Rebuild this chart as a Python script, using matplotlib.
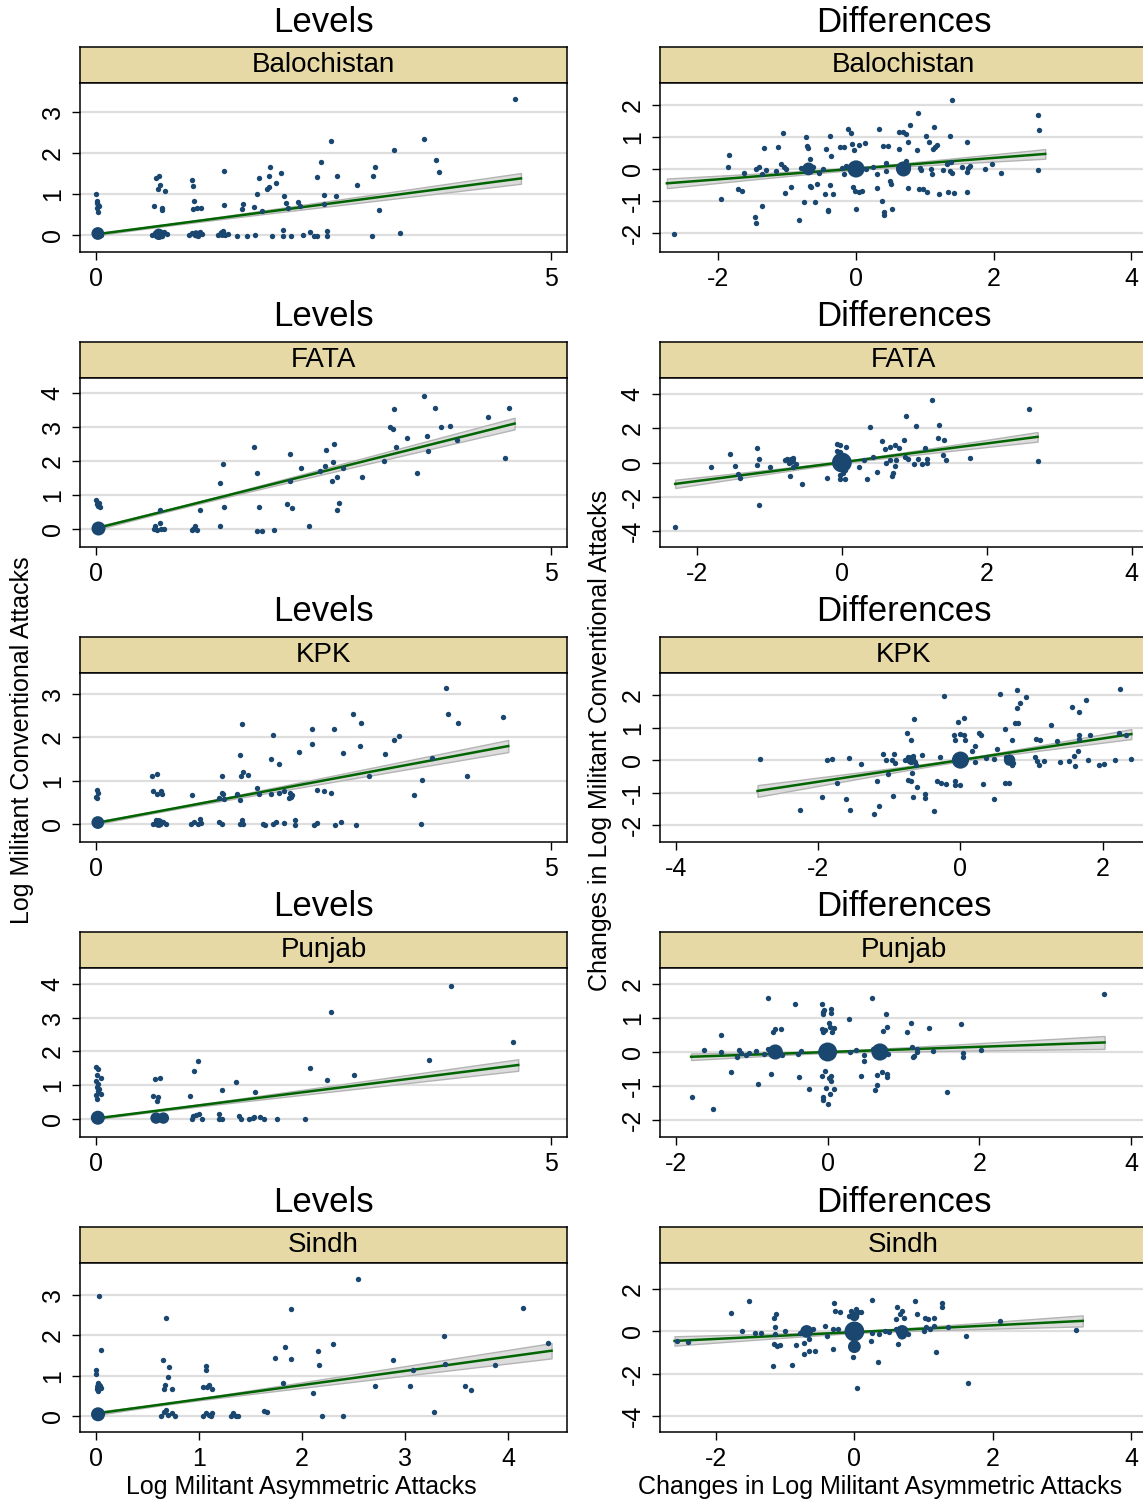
"""Levels vs. differences scatter panels by province, with linear fit and CI."""

import matplotlib
matplotlib.use("Agg")
import matplotlib.pyplot as plt
import numpy as np

plt.rcParams["font.family"] = ["Liberation Sans", "DejaVu Sans"]
plt.rcParams["axes.unicode_minus"] = False

W, H = 1143, 1505
NAVY = "#1a476f"
GREEN = "#006400"
STRIP = "#e6d9a6"
GRID = "#dedede"
BAND = "#dcdcdc"
BAND_EDGE = "#b4b4b4"

REGIONS = ["Balochistan", "FATA", "KPK", "Punjab", "Sindh"]

# ---- Balochistan ----
bal_lev_pts = [
    (4.61, 3.30), (2.58, 2.30), (3.60, 2.35), (3.28, 2.08), (3.74, 1.83), (3.77, 1.53), (2.47, 1.77),
    (3.07, 1.66), (3.04, 1.43), (2.65, 1.43), (2.43, 1.42), (2.87, 1.23), (2.51, 0.97), (2.64, 0.95),
    (2.50, 0.75), (3.11, 0.61), (3.03, -0.02), (3.34, 0.05), (1.91, 1.66), (1.90, 1.43), (2.03, 1.52),
    (1.79, 1.39), (1.98, 1.28), (1.90, 1.17), (1.88, 1.11), (1.77, 1.00), (2.07, 0.95), (2.09, 0.79),
    (2.11, 0.66), (2.22, 0.80), (2.24, 0.71), (1.82, 0.58), (1.74, 0.68), (1.62, 0.75), (1.60, 0.64),
    (1.41, 1.57), (1.41, 0.73), (1.06, 1.34), (1.07, 1.19), (1.08, 0.82), (1.07, 0.63), (1.11, 0.67),
    (1.15, 0.66), (0.66, 1.38), (0.69, 1.43), (0.70, 1.21), (0.68, 1.11), (0.76, 1.07), (0.64, 0.72),
    (0.72, 0.66), (0.73, 0.60), (0.00, 1.00), (0.01, 0.82), (0.025, 0.74), (0.01, 0.66), (0.02, 0.57),
    (0.03, 0.70), (0.015, 0.78), (1.55, -0.01), (1.66, -0.02), (1.75, 0.01), (1.93, -0.01), (2.06, 0.12),
    (2.06, -0.01), (2.14, -0.02), (2.28, 0.00), (2.35, 0.07), (2.40, -0.02), (2.43, -0.01), (2.54, 0.10),
    (2.54, -0.01), (1.02, 0.01), (1.05, 0.06), (1.12, -0.01), (1.16, 0.03), (1.14, 0.08), (0.62, 0.00),
    (0.65, 0.06), (0.72, -0.02), (0.78, 0.03), (0.75, 0.07), (1.34, 0.00), (1.37, 0.06), (1.42, 0.01),
    (1.45, 0.03), (1.40, 0.09), (0.05, 0.00), (0.00, 0.08),
]
bal_lev_clu = [(0.02, 0.04, 5), (0.69, 0.02, 4), (1.10, 0.02, 2), (1.39, 0.03, 2)]
bal_lev_fit = (0.0, 4.67, 0.02, 1.38)
bal_lev_ci = (0.02, 0.13, 0.6)

bal_dif_pts = [
    (-2.64, -2.03), (-1.97, -0.95), (-1.86, 0.06), (-1.84, 0.43), (-1.71, -0.64), (-1.66, -0.70),
    (-1.63, -0.13), (-1.47, -1.50), (-1.46, -1.68), (-1.45, -0.01), (-1.41, 0.07), (-1.37, -1.16),
    (-1.34, 0.64), (-1.31, -0.03), (-1.37, -0.16), (-1.16, -0.06), (-1.13, 0.68), (-1.09, 0.17),
    (-1.06, 1.13), (-1.05, 0.06), (-1.04, -0.74), (-1.02, -0.01), (-0.94, -0.55), (-0.83, -1.59),
    (-0.75, -1.02), (-0.73, 1.00), (-0.71, 0.72), (-0.70, 0.65), (-0.67, 0.30), (-0.67, -0.53),
    (-0.65, -0.58), (-0.59, -1.04), (-0.57, -0.46), (-0.54, -0.13), (-0.48, 0.01), (-0.44, 0.62),
    (-0.45, -0.78), (-0.41, -1.31), (-0.41, -1.28), (-0.38, 1.03), (-0.38, -0.49), (-0.36, 0.42),
    (-0.33, -0.80), (-0.24, 0.69), (-0.18, 0.69), (-0.18, -0.15), (-0.12, 1.25), (-0.08, 1.11),
    (-0.06, 0.79), (-0.03, 0.60), (-0.04, -0.55), (-0.02, -0.69), (0.00, -1.25), (0.04, 0.75),
    (0.05, -0.72), (0.09, -0.70), (0.13, 0.82), (0.25, 0.07), (0.30, -0.15), (0.31, -0.60), (0.33, 1.24),
    (0.38, -0.99), (0.39, 0.72), (0.40, -1.34), (0.41, -1.44), (0.43, 0.18), (0.44, -0.08), (0.47, 0.71),
    (0.49, -0.39), (0.51, -0.46), (0.52, -1.25), (0.62, 0.61), (0.63, 1.17), (0.68, 1.16), (0.73, 1.08),
    (0.75, 0.83), (0.75, -0.61), (0.79, 1.36), (0.88, 0.58), (0.90, 1.75), (0.91, -0.63), (0.94, -0.03),
    (0.97, -0.64), (0.93, 0.04), (1.02, 1.04), (1.03, -0.72), (1.06, 0.83), (1.09, -0.01), (1.10, -0.16),
    (1.12, 0.62), (1.14, 1.32), (1.15, 0.69), (1.18, 0.74), (1.20, -0.77), (1.27, -0.02), (1.32, 0.16),
    (1.34, -0.72), (1.36, 1.03), (1.36, -0.08), (1.38, 0.22), (1.39, -0.13), (1.40, 2.17), (1.43, -0.75),
    (1.54, 0.07), (1.61, -0.71), (1.62, 0.85), (1.63, 0.04), (1.62, -0.09), (1.65, 0.09), (1.88, 0.01),
    (1.98, 0.15), (2.11, -0.13), (2.64, -0.04), (2.65, 1.70), (2.66, 1.21), (-0.80, 0.02), (-0.62, 0.05),
    (-0.72, 0.12), (-0.10, 0.05), (0.08, 0.02), (-0.15, 0.08), (0.62, 0.05), (0.75, 0.10), (0.70, -0.10),
    (0.72, 0.25), (-0.20, 0.02), (0.15, 0.00),
]
bal_dif_clu = [(0.0, 0.0, 9), (-0.69, 0.0, 5), (0.69, 0.0, 7)]
bal_dif_fit = (-2.75, 2.75, -0.45, 0.47)
bal_dif_ci = (0.04, 0.15, 0.0)

# ---- FATA ----
fata_lev_pts = [
    (3.60, 3.91), (3.28, 3.54), (3.72, 3.57), (4.54, 3.57), (4.31, 3.28), (3.23, 3.00), (3.26, 2.94),
    (3.79, 3.01), (3.89, 3.03), (3.42, 2.67), (3.64, 2.73), (3.30, 2.42), (3.65, 2.29), (3.97, 2.61),
    (3.17, 2.00), (3.53, 1.66), (4.50, 2.08), (1.74, 2.41), (1.40, 1.92), (1.36, 1.36), (1.41, 0.66),
    (1.77, 1.66), (1.79, 0.65), (2.13, 2.20), (2.13, 1.42), (2.25, 1.80), (2.10, 0.74), (2.15, 0.61),
    (2.46, 1.70), (2.53, 2.33), (2.52, 1.86), (2.60, 1.96), (2.62, 2.49), (2.59, 1.40), (2.65, 1.52),
    (2.71, 1.80), (2.65, 0.57), (2.67, 0.77), (2.92, 1.54), (1.14, 0.57), (1.36, 0.08), (2.34, 0.08),
    (1.77, -0.05), (1.82, -0.05), (1.96, -0.03), (0.70, 0.57), (0.70, 0.18), (0.65, 0.08), (0.67, -0.02),
    (0.71, 0.00), (0.75, 0.00), (0.64, -0.01), (1.05, -0.02), (1.09, 0.08), (1.11, -0.04), (1.07, 0.00),
    (0.00, 0.85), (0.01, 0.72), (0.03, 0.77), (0.04, 0.64), (0.02, 0.68),
]
fata_lev_clu = [(0.02, 0.03, 6)]
fata_lev_fit = (0.0, 4.6, 0.02, 3.1)
fata_lev_ci = (0.03, 0.17, 0.8)

fata_dif_pts = [
    (-2.30, -3.77), (-1.80, -0.27), (-1.55, 0.51), (-1.48, -0.18), (-1.44, -0.68), (-1.40, -0.88),
    (-1.17, 0.82), (-1.17, -0.12), (-1.14, 0.20), (-1.14, -2.46), (-0.99, -0.25), (-0.78, 0.12),
    (-0.76, 0.20), (-0.73, 0.00), (-0.71, 0.16), (-0.71, -0.78), (-0.68, -0.27), (-0.67, 0.29),
    (-0.64, -0.08), (-0.55, -1.27), (-0.20, -0.90), (-0.07, 1.11), (-0.07, 0.66), (-0.02, 1.01),
    (0.05, 0.92), (-0.03, -0.72), (-0.02, -0.94), (0.04, -0.98), (0.23, -0.25), (0.30, 0.14),
    (0.35, -0.98), (0.39, 2.07), (0.43, 0.33), (0.49, -0.53), (0.56, 1.27), (0.59, 0.80), (0.61, -0.02),
    (0.66, 0.88), (0.66, 0.14), (0.69, -0.78), (0.71, -0.59), (0.73, 1.01), (0.73, -0.21), (0.75, 0.12),
    (0.79, 0.84), (0.86, 1.29), (0.89, 2.73), (0.87, 0.31), (0.91, 0.23), (0.99, -0.06), (1.02, 2.15),
    (1.05, 0.23), (1.11, -0.10), (1.14, 0.84), (1.17, 0.23), (1.17, -0.02), (1.25, 3.63), (1.33, 1.46),
    (1.34, 2.20), (1.39, 0.43), (1.41, 1.33), (1.43, 0.14), (1.77, 0.25), (2.58, 3.14), (2.70, 0.06),
    (0.00, 0.30), (0.00, -0.30), (-0.04, 0.45), (0.04, -0.45), (0.02, -0.60), (-0.03, 0.60),
]
fata_dif_clu = [(0.0, 0.0, 12), (-0.69, 0.1, 2)]
fata_dif_fit = (-2.3, 2.7, -1.25, 1.5)
fata_dif_ci = (0.06, 0.28, 0.0)

# ---- KPK ----
kpk_lev_pts = [
    (3.85, 3.14), (3.87, 2.54), (3.98, 2.33), (4.47, 2.48), (4.08, 1.11), (3.69, 1.52), (3.58, 1.02),
    (3.49, 0.67), (3.57, 0.00), (2.82, 2.54), (2.91, 2.33), (2.90, 1.81), (3.00, 1.11), (3.27, 1.95),
    (3.33, 2.03), (3.18, 1.61), (2.61, 2.20), (2.71, 1.64), (2.58, 0.71), (2.51, 0.75), (2.43, 0.78),
    (2.37, 2.19), (2.37, 1.84), (2.23, 1.67), (1.95, 2.06), (1.92, 1.51), (2.01, 1.38), (1.92, 0.70),
    (2.01, 0.72), (2.07, 0.75), (2.13, 0.71), (2.14, 0.62), (2.15, 0.67), (2.12, 0.60), (1.77, 0.82),
    (1.79, 0.70), (1.60, 2.32), (1.58, 1.60), (1.59, 1.11), (1.62, 1.19), (1.67, 1.14), (1.55, 0.68),
    (1.58, 0.56), (1.39, 1.10), (1.38, 0.72), (1.40, 0.68), (1.35, 0.60), (1.41, 0.57), (1.06, 0.66),
    (0.62, 1.11), (0.67, 1.16), (0.63, 0.75), (0.67, 0.70), (0.71, 0.77), (0.73, 0.68), (1.14, 0.12),
    (1.35, 0.05), (1.39, -0.01), (1.60, 0.09), (1.58, -0.01), (1.62, -0.01), (1.83, 0.00), (1.86, -0.02),
    (1.95, 0.00), (1.98, 0.05), (2.07, 0.02), (2.19, 0.09), (2.19, -0.02), (2.40, -0.02), (2.43, 0.02),
    (2.63, -0.02), (2.69, 0.05), (2.86, -0.02), (1.04, 0.00), (1.08, 0.05), (1.12, -0.01), (1.15, 0.02),
    (0.63, 0.00), (0.66, 0.08), (0.70, -0.01), (0.74, 0.04), (0.77, 0.00), (0.01, 0.79), (0.02, 0.71),
    (0.00, 0.63), (0.01, 0.60),
]
kpk_lev_clu = [(0.02, 0.03, 5), (0.69, 0.02, 3)]
kpk_lev_fit = (0.0, 4.53, 0.02, 1.8)
kpk_lev_ci = (0.02, 0.14, 0.7)

kpk_dif_pts = [
    (-2.82, 0.03), (-2.25, -1.53), (-1.94, -1.14), (-1.88, 0.00), (-1.80, 0.03), (-1.74, -0.69),
    (-1.61, -1.20), (-1.56, 0.06), (-1.55, -1.55), (-1.40, -0.13), (-1.22, -1.66), (-1.17, -0.64),
    (-1.15, -1.41), (-1.09, 0.18), (-1.04, 0.00), (-1.02, -0.42), (-0.96, 0.00), (-0.94, 0.18),
    (-0.95, -1.10), (-0.92, -0.10), (-0.78, 0.00), (-0.75, 0.82), (-0.74, -0.60), (-0.70, 0.62),
    (-0.70, -0.64), (-0.68, -0.39), (-0.66, -1.14), (-0.65, 1.26), (-0.66, 0.14), (-0.62, -0.14),
    (-0.61, -0.82), (-0.54, 0.17), (-0.50, -1.03), (-0.50, -1.18), (-0.37, -1.56), (-0.33, -0.63),
    (-0.29, 0.11), (-0.27, -0.72), (-0.23, 1.97), (-0.20, -0.74), (-0.09, 0.76), (-0.07, 0.62),
    (-0.08, -0.64), (-0.07, -0.77), (-0.04, 1.17), (-0.01, 0.80), (0.00, -0.77), (0.05, 1.29), (0.05, 0.76),
    (0.07, 0.62), (0.16, 0.29), (0.20, 0.44), (0.21, -0.07), (0.26, 0.83), (0.29, 0.78), (0.32, -0.73),
    (0.36, 0.06), (0.47, 0.03), (0.47, -1.21), (0.51, 0.34), (0.55, 2.02), (0.62, -0.70), (0.63, 0.95),
    (0.68, -0.70), (0.69, 0.03), (0.72, -0.14), (0.73, 0.61), (0.77, 1.14), (0.79, 1.60), (0.80, 2.16),
    (0.81, 1.14), (0.84, 1.77), (0.92, 1.94), (1.05, 0.10), (1.06, 0.64), (1.08, -0.04), (1.10, -0.16),
    (1.12, 0.63), (1.17, -0.02), (1.27, 1.09), (1.36, 0.60), (1.40, -0.06), (1.52, -0.02), (1.56, 1.62),
    (1.59, 0.14), (1.61, -0.17), (1.65, 0.29), (1.67, 0.78), (1.67, 1.47), (1.67, 0.66), (1.77, 1.86),
    (1.79, 0.00), (1.82, 0.76), (1.95, -0.14), (2.01, -0.11), (2.17, 0.01), (2.24, 2.20), (2.23, 0.83),
    (2.32, 0.78), (2.40, 0.03), (-0.74, 0.08), (-0.64, -0.06), (0.64, 0.08), (0.74, -0.08),
]
kpk_dif_clu = [(0.0, 0.0, 9), (-0.69, 0.0, 3), (0.69, 0.0, 4)]
kpk_dif_fit = (-2.85, 2.4, -0.95, 0.8)
kpk_dif_ci = (0.04, 0.18, 0.0)

# ---- Punjab ----
pun_lev_pts = [
    (3.90, 3.93), (2.58, 3.18), (4.58, 2.27), (3.66, 1.76), (2.35, 1.50), (2.54, 1.15), (2.84, 1.30),
    (1.12, 1.73), (1.08, 1.42), (1.03, 0.68), (1.54, 1.10), (1.38, 0.85), (1.75, 0.79), (0.63, 0.68),
    (0.65, 1.19), (0.70, 1.23), (0.68, 0.65), (0.67, 0.54), (0.00, 1.53), (0.02, 1.49), (0.05, 1.22),
    (0.00, 1.12), (0.01, 0.95), (0.02, 0.83), (0.00, 0.71), (0.05, 0.73), (0.01, 0.59), (0.03, 0.88),
    (0.01, 1.30), (0.02, 1.05), (1.05, 0.00), (1.07, 0.10), (1.10, 0.12), (1.13, 0.15), (1.16, 0.00),
    (1.35, 0.15), (1.35, 0.00), (1.38, 0.00), (1.57, 0.10), (1.59, 0.00), (1.68, 0.00), (1.72, 0.02),
    (1.74, 0.07), (1.80, 0.07), (1.85, 0.00), (1.99, 0.00), (2.30, 0.00),
]
pun_lev_clu = [(0.02, 0.04, 6), (0.66, 0.03, 4), (0.74, 0.03, 4)]
pun_lev_fit = (0.0, 4.64, 0.02, 1.6)
pun_lev_ci = (0.02, 0.17, 0.5)

pun_dif_pts = [
    (-1.79, -1.33), (-1.63, 0.07), (-1.51, -1.67), (-1.41, 0.49), (-1.41, 0.00), (-1.27, -0.58),
    (-1.20, -0.16), (-1.17, 0.06), (-1.14, -0.04), (-1.08, -0.09), (-1.04, -0.04), (-0.94, 0.03),
    (-0.92, -0.95), (-0.84, -0.05), (-0.78, 1.59), (-0.75, -0.66), (-0.72, 0.60), (-0.69, 0.69),
    (-0.61, 0.68), (-0.39, -0.07), (-0.38, -0.74), (-0.35, 0.04), (-0.43, 1.42), (-0.25, -1.09),
    (-0.07, 1.42), (-0.06, 1.12), (-0.06, 1.17), (-0.05, 1.23), (0.05, 1.25), (0.05, 1.15), (-0.07, 0.69),
    (-0.06, 0.60), (-0.03, 0.65), (0.02, 0.84), (0.03, 0.74), (0.06, 0.60), (0.08, 0.71), (-0.07, -0.70),
    (-0.03, -0.56), (0.02, -0.77), (0.04, -0.72), (0.05, -0.84), (-0.06, -1.31), (-0.06, -1.41),
    (-0.02, -1.07), (0.00, -1.53), (0.03, -1.23), (0.09, -1.10), (0.28, 0.96), (0.30, 0.01), (0.37, 0.06),
    (0.44, -0.70), (0.48, -0.09), (0.48, -0.26), (0.58, 1.59), (0.65, -0.69), (0.65, -0.98), (0.63, -1.13),
    (0.71, -0.58), (0.73, 0.62), (0.77, 1.11), (0.78, 0.74), (0.78, -0.66), (0.78, -0.75), (1.04, 0.60),
    (1.10, 0.84), (1.11, 0.16), (1.12, -0.16), (1.14, -0.11), (1.18, 0.10), (1.18, 0.00), (1.34, 0.72),
    (1.39, 0.04), (1.58, -1.18), (1.76, 0.81), (1.79, -0.04), (1.79, -0.14), (2.02, 0.06), (3.64, 1.70),
    (-0.78, 0.08), (-0.60, -0.08), (0.60, 0.08), (0.80, -0.06),
]
pun_dif_clu = [(-0.69, 0.0, 7), (0.0, 0.0, 11), (0.69, 0.0, 9)]
pun_dif_fit = (-1.8, 3.65, -0.14, 0.28)
pun_dif_ci = (0.03, 0.19, 0.0)

# ---- Sindh ----
sin_lev_pts = [
    (2.54, 3.40), (0.03, 2.97), (0.68, 2.43), (1.89, 2.66), (4.14, 2.67), (3.38, 1.99), (4.39, 1.81),
    (2.30, 1.79), (1.83, 1.71), (2.15, 1.61), (1.74, 1.45), (1.89, 1.41), (2.88, 1.40), (0.05, 1.65),
    (0.65, 1.39), (0.71, 1.21), (1.07, 1.23), (1.07, 1.15), (2.16, 1.27), (3.39, 1.29), (3.87, 1.26),
    (3.08, 1.13), (0.00, 1.13), (0.00, 1.04), (0.70, 0.96), (1.81, 0.81), (2.71, 0.74), (3.05, 0.75),
    (3.58, 0.74), (3.64, 0.64), (2.11, 0.57), (0.66, 0.66), (0.67, 0.76), (0.74, 0.67), (1.04, 0.72),
    (1.08, 0.73), (1.10, 0.78), (1.13, 0.66), (3.28, 0.10), (2.19, 0.00), (2.40, 0.00), (1.63, 0.12),
    (1.66, 0.10), (1.31, 0.00), (1.33, 0.08), (1.36, 0.01), (1.38, 0.00), (1.04, 0.00), (1.07, 0.07),
    (1.10, 0.03), (1.13, 0.06), (1.12, -0.01), (0.63, 0.00), (0.66, 0.10), (0.70, 0.02), (0.74, 0.08),
    (0.77, 0.01), (0.68, 0.14), (0.02, 0.82), (0.04, 0.74), (0.01, 0.66), (0.05, 0.70), (0.03, 0.78),
    (0.02, 0.62),
]
sin_lev_clu = [(0.02, 0.04, 6), (0.03, 0.72, 2)]
sin_lev_fit = (0.0, 4.42, 0.06, 1.62)
sin_lev_ci = (0.02, 0.19, 0.7)

sin_dif_pts = [
    (-2.56, -0.46), (-2.40, -0.52), (-1.79, 0.87), (-1.63, 0.00), (-1.53, 1.45), (-1.44, -0.06),
    (-1.35, -0.08), (-1.17, -1.64), (-1.15, 0.22), (-1.16, 0.66), (-1.13, 0.84), (-1.15, -0.14),
    (-1.16, -0.60), (-1.12, -0.68), (-1.07, -0.62), (-1.01, 0.00), (-0.90, -1.58), (-0.85, -0.65),
    (-0.73, -1.07), (-0.73, -0.55), (-0.66, -0.92), (-0.65, -0.36), (-0.57, -0.92), (-0.43, 0.27),
    (-0.39, -0.21), (-0.31, -0.85), (-0.29, 1.37), (-0.28, 0.98), (-0.31, 0.11), (-0.24, 0.13),
    (-0.21, 0.93), (-0.05, 0.97), (-0.03, 0.82), (0.03, 1.05), (0.05, 0.90), (0.10, 0.93), (-0.08, 0.75),
    (-0.02, -1.23), (0.04, -2.70), (0.26, 1.48), (0.25, -0.06), (0.24, -0.47), (0.34, -1.47), (0.36, -0.14),
    (0.44, 0.02), (0.50, -0.03), (0.62, 1.17), (0.63, -0.60), (0.60, 0.58), (0.66, 0.82), (0.69, 0.98),
    (0.71, 0.66), (0.88, 1.45), (0.91, 0.82), (1.02, 0.66), (1.07, 0.58), (1.15, 0.62), (1.00, 0.03),
    (1.04, 0.19), (1.10, 0.11), (1.15, 0.27), (1.18, -0.96), (1.26, 1.37), (1.26, 1.18), (1.36, 0.19),
    (1.61, -0.22), (1.64, -2.43), (2.10, 0.51), (3.20, 0.08), (-0.78, -0.05), (-0.60, 0.10), (0.60, 0.10),
    (0.78, -0.10),
]
sin_dif_clu = [(0.0, 0.0, 12), (0.0, -0.72, 5), (0.0, 0.72, 3), (-0.69, 0.0, 5), (0.69, 0.0, 5), (0.69, -0.15, 3)]
sin_dif_fit = (-2.6, 3.3, -0.45, 0.5)
sin_dif_ci = (0.05, 0.26, 0.1)

LEVELS = [
    (bal_lev_pts, bal_lev_clu, bal_lev_fit, bal_lev_ci),
    (fata_lev_pts, fata_lev_clu, fata_lev_fit, fata_lev_ci),
    (kpk_lev_pts, kpk_lev_clu, kpk_lev_fit, kpk_lev_ci),
    (pun_lev_pts, pun_lev_clu, pun_lev_fit, pun_lev_ci),
    (sin_lev_pts, sin_lev_clu, sin_lev_fit, sin_lev_ci),
]
DIFFS = [
    (bal_dif_pts, bal_dif_clu, bal_dif_fit, bal_dif_ci),
    (fata_dif_pts, fata_dif_clu, fata_dif_fit, fata_dif_ci),
    (kpk_dif_pts, kpk_dif_clu, kpk_dif_fit, kpk_dif_ci),
    (pun_dif_pts, pun_dif_clu, pun_dif_fit, pun_dif_ci),
    (sin_dif_pts, sin_dif_clu, sin_dif_fit, sin_dif_ci),
]

# axis setup per row: (xlim, xticks, ylim, yticks)
LEV_AXES = [
    ((-0.176, 5.176), [0, 5], (-0.41, 3.7), [0, 1, 2, 3]),
    ((-0.176, 5.176), [0, 5], (-0.53, 4.44), [0, 1, 2, 3, 4]),
    ((-0.176, 5.176), [0, 5], (-0.42, 3.49), [0, 1, 2, 3]),
    ((-0.176, 5.176), [0, 5], (-0.53, 4.47), [0, 1, 2, 3, 4]),
    ((-0.155, 4.57), [0, 1, 2, 3, 4], (-0.40, 3.8), [0, 1, 2, 3]),
]
DIF_AXES = [
    ((-2.85, 4.23), [-2, 0, 2, 4], (-2.60, 2.69), [-2, -1, 0, 1, 2]),
    ((-2.51, 4.21), [-2, 0, 2, 4], (-4.94, 4.94), [-4, -2, 0, 2, 4]),
    ((-4.22, 2.62), [-4, -2, 0, 2], (-2.52, 2.68), [-2, -1, 0, 1, 2]),
    ((-2.21, 4.21), [-2, 0, 2, 4], (-2.50, 2.47), [-2, -1, 0, 1, 2]),
    ((-2.81, 4.23), [-2, 0, 2, 4], (-4.76, 3.24), [-4, -2, 0, 2]),
]

fig = plt.figure(figsize=(W / 100, H / 100), dpi=100)


def box(left, top, w, h):
    return [left / W, 1 - (top + h) / H, w / W, h / H]


def draw_panel(left, top, title, region, series, axes_cfg):
    pts, clu, fit, ci = series
    xlim, xticks, ylim, yticks = axes_cfg
    pw, sh, ph = 487, 36, 169

    fig.text((left + pw / 2) / W, 1 - (top - 25) / H, title, fontsize=25, ha="center", va="center")

    strip = fig.add_axes(box(left, top, pw, sh))
    strip.set_facecolor(STRIP)
    strip.set_xticks([])
    strip.set_yticks([])
    for sp in strip.spines.values():
        sp.set_linewidth(1.1)
    strip.text(0.5, 0.5, region, transform=strip.transAxes, fontsize=20, ha="center", va="center")

    ax = fig.add_axes(box(left, top + sh, pw, ph))
    ax.set_xlim(*xlim)
    ax.set_ylim(*ylim)
    ax.set_xticks(xticks)
    ax.set_yticks(yticks)
    ax.set_axisbelow(True)
    ax.yaxis.grid(True, color=GRID, linewidth=1.6)
    for sp in ax.spines.values():
        sp.set_linewidth(1.1)
    ax.tick_params(direction="out", length=6, width=1, labelsize=18, pad=5)
    plt.setp(ax.get_yticklabels(), rotation=90, va="center")

    # fitted line with confidence band
    x0, x1, y0, y1 = fit
    ci_mid, ci_end, xc = ci
    xs = np.linspace(x0, x1, 80)
    ys = y0 + (y1 - y0) * (xs - x0) / (x1 - x0)
    far = max(abs(x1 - xc), abs(x0 - xc))
    k = np.sqrt(ci_end ** 2 - ci_mid ** 2) / far
    hw = np.sqrt(ci_mid ** 2 + (k * (xs - xc)) ** 2)
    ax.fill_between(xs, ys - hw, ys + hw, facecolor=BAND, edgecolor=BAND_EDGE, linewidth=1.0, zorder=2)
    ax.plot(xs, ys, color=GREEN, linewidth=1.8, zorder=2.5)

    px, py = np.array(pts).T
    ax.scatter(px, py, s=15, color=NAVY, linewidths=0, zorder=3)
    cx, cy, cw = np.array(clu).T
    ax.scatter(cx, cy, s=17 * cw, color=NAVY, linewidths=0, zorder=3)
    return ax


for r, region in enumerate(REGIONS):
    top = 47 + 295 * r
    draw_panel(80, top, "Levels", region, LEVELS[r], LEV_AXES[r])
    draw_panel(660, top, "Differences", region, DIFFS[r], DIF_AXES[r])

fig.text(22 / W, 1 - 740 / H, "Log Militant Conventional Attacks", rotation=90, fontsize=18, ha="center", va="center")
fig.text(600 / W, 1 - 740 / H, "Changes in Log Militant Conventional Attacks", rotation=90, fontsize=18,
         ha="center", va="center")
fig.text(301 / W, 1 - 1487 / H, "Log Militant Asymmetric Attacks", fontsize=18, ha="center", va="center")
fig.text(880 / W, 1 - 1487 / H, "Changes in Log Militant Asymmetric Attacks", fontsize=18, ha="center",
         va="center")

fig.savefig("out.png", dpi=100, facecolor="white")
